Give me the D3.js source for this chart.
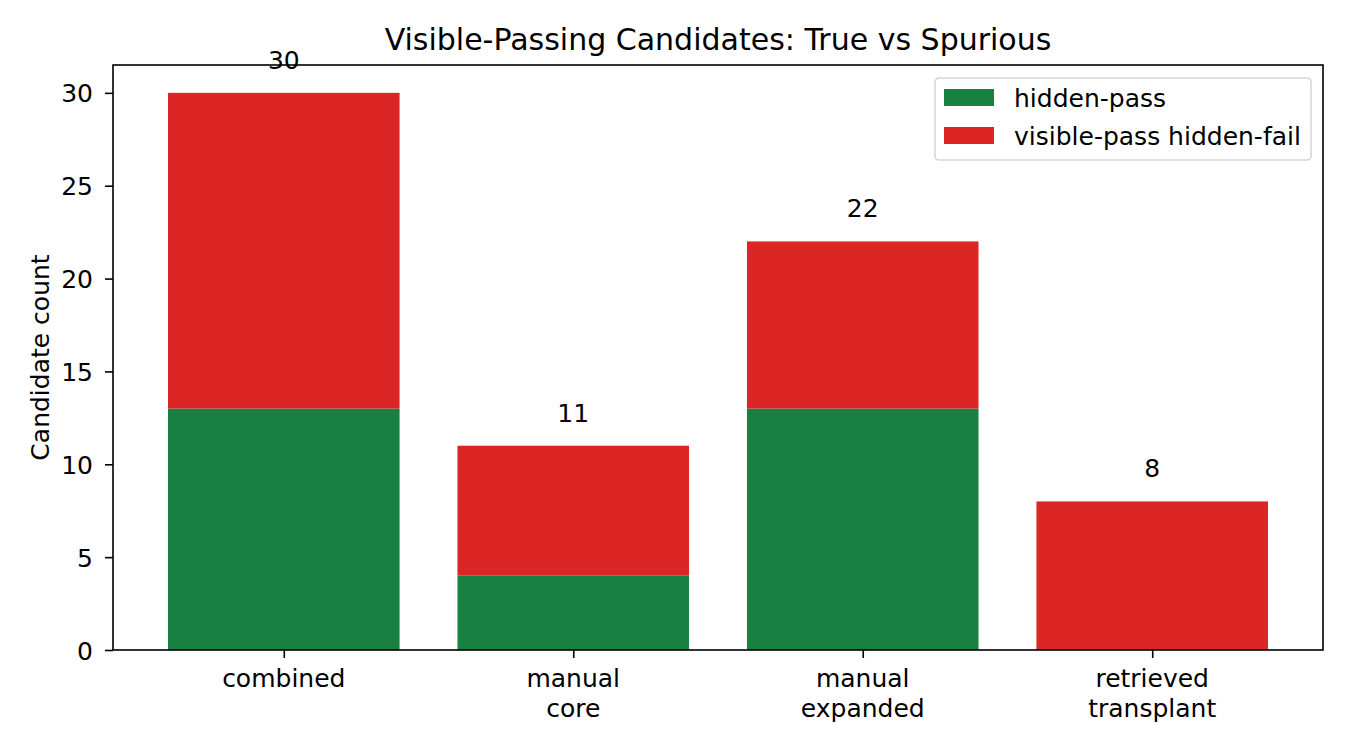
<!DOCTYPE html>
<html>
<head>
<meta charset="utf-8">
<script src="https://cdn.jsdelivr.net/npm/d3@7"></script>
<style>
  body { margin: 0; background: #fff; }
  text { font-family: "DejaVu Sans", sans-serif; fill: #000; }
</style>
</head>
<body>
<svg id="chart" width="1350" height="756"></svg>
<script>
// ─── data ─────────────────────────────────────────────────────────
const categories  = ["combined", "manual\ncore", "manual\nexpanded", "retrieved\ntransplant"];
const hiddenPass  = [13, 4, 13, 0];
const hiddenFail  = [17, 7, 9, 8];
const seriesNames = ["hidden-pass", "visible-pass hidden-fail"];
const yTicks      = [0, 5, 10, 15, 20, 25, 30];

// ─── colours ──────────────────────────────────────────────────────
const green = "#188040";
const red   = "#dc2626";

// ─── layout ───────────────────────────────────────────────────────
const margin = { left: 113, top: 65, right: 27, bottom: 106 };
const W = 1350, H = 756;
const innerW = W - margin.left - margin.right;
const innerH = H - margin.top - margin.bottom;
const fs = "25px";

const svg = d3.select("#chart");
const g = svg.append("g").attr("transform", `translate(${margin.left},${margin.top})`);

const totals = categories.map((c, i) => hiddenPass[i] + hiddenFail[i]);

// matplotlib-style x: bar width 0.8, limits -0.59..3.59
const x = d3.scaleLinear().domain([-0.59, categories.length - 1 + 0.59]).range([0, innerW]);
const barW = x(0.8) - x(0);
const y = d3.scaleLinear().domain([0, d3.max(totals) * 1.05]).range([innerH, 0]);

const rows = categories.map((c, i) => ({ cat: c, i, pass: hiddenPass[i], fail: hiddenFail[i], total: totals[i] }));

// ── bars ──────────────────────────────────────────────────────────
g.selectAll("rect.pass")
    .data(rows)
    .join("rect")
    .attr("class", "pass")
    .attr("x", d => x(d.i) - barW / 2)
    .attr("width", barW)
    .attr("y", d => y(d.pass))
    .attr("height", d => y(0) - y(d.pass))
    .attr("fill", green);

g.selectAll("rect.fail")
    .data(rows)
    .join("rect")
    .attr("class", "fail")
    .attr("x", d => x(d.i) - barW / 2)
    .attr("width", barW)
    .attr("y", d => y(d.pass + d.fail))
    .attr("height", d => y(d.pass) - y(d.pass + d.fail))
    .attr("fill", red);

// ── total labels ──────────────────────────────────────────────────
g.selectAll("text.total")
    .data(rows)
    .join("text")
    .attr("class", "total")
    .attr("x", d => x(d.i))
    .attr("y", d => y(d.total) - 24)
    .attr("text-anchor", "middle")
    .style("font-size", fs)
    .text(d => d.total);

// ── axes ──────────────────────────────────────────────────────────
const yAxis = g.append("g")
    .call(d3.axisLeft(y).tickValues(yTicks).tickSize(8).tickPadding(12));
yAxis.select(".domain").remove();
yAxis.selectAll("line").attr("stroke-width", 1.6);
yAxis.selectAll("text").style("font-size", fs).attr("font-family", null).attr("dy", "0.36em");

const xAxis = g.append("g")
    .attr("transform", `translate(0,${innerH})`)
    .call(d3.axisBottom(x).tickValues(d3.range(categories.length)).tickSize(8).tickFormat(""));
xAxis.select(".domain").remove();
xAxis.selectAll("line").attr("stroke-width", 1.6);

const xLabels = g.selectAll("text.xlab")
    .data(rows)
    .join("text")
    .attr("class", "xlab")
    .attr("text-anchor", "middle")
    .style("font-size", fs);
xLabels.each(function (d) {
    d3.select(this).selectAll("tspan")
        .data(d.cat.split("\n"))
        .join("tspan")
        .attr("x", x(d.i))
        .attr("y", (t, k) => innerH + 37 + k * 30)
        .text(t => t);
});

// frame
g.append("rect")
    .attr("width", innerW)
    .attr("height", innerH)
    .attr("fill", "none")
    .attr("stroke", "#000")
    .attr("stroke-width", 1.6);

// ── titles ────────────────────────────────────────────────────────
svg.append("text")
    .attr("x", margin.left + innerW / 2)
    .attr("y", 50)
    .attr("text-anchor", "middle")
    .style("font-size", "30px")
    .text("Visible-Passing Candidates: True vs Spurious");

svg.append("text")
    .attr("transform", `translate(49,${margin.top + innerH / 2}) rotate(-90)`)
    .attr("text-anchor", "middle")
    .style("font-size", fs)
    .text("Candidate count");

// ── legend ────────────────────────────────────────────────────────
const leg = svg.append("g").attr("transform", "translate(935,78)");
leg.append("rect")
    .attr("width", 376)
    .attr("height", 82)
    .attr("rx", 4)
    .attr("fill", "#fff")
    .attr("fill-opacity", 0.8)
    .attr("stroke", "#d6d6d6")
    .attr("stroke-width", 1.6);

const legItems = leg.selectAll("g.item")
    .data(seriesNames)
    .join("g")
    .attr("class", "item")
    .attr("transform", (d, i) => `translate(9,${11 + i * 38})`);
legItems.append("rect")
    .attr("width", 50)
    .attr("height", 17)
    .attr("fill", (d, i) => i === 0 ? green : red);
legItems.append("text")
    .attr("x", 70)
    .attr("y", 18)
    .style("font-size", fs)
    .text(d => d);
</script>
</body>
</html>
